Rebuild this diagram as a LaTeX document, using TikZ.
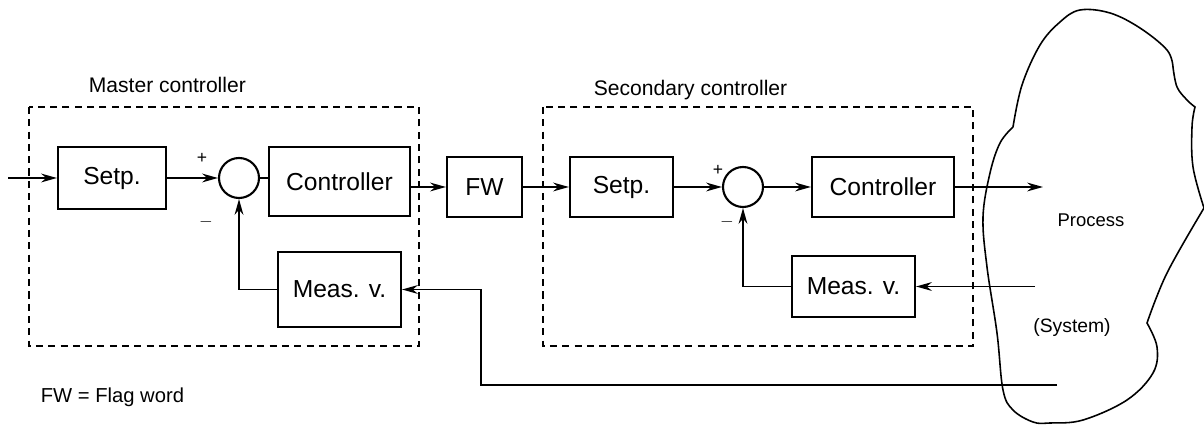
\documentclass[tikz,border=0pt]{standalone}
\usepackage{fontspec}
\setmainfont{Liberation Sans}
\usetikzlibrary{arrows.meta}

\tikzset{
  block/.style={draw, line width=1.2pt, inner sep=0pt, font=\fontsize{14}{16}\selectfont},
  sumpt/.style={draw, circle, line width=1.2pt, minimum size=40*0.02cm, inner sep=0pt},
  frame/.style={line width=1.1pt, dash pattern=on 4pt off 3pt},
  lbl/.style={inner sep=0pt, font=\fontsize{12}{14}\selectfont},
  sgn/.style={inner sep=0pt, font=\fontsize{10}{12}\selectfont},
}

\begin{document}
\begin{tikzpicture}[x=0.02cm, y=-0.02cm, line width=1pt, >={Stealth[length=9pt,width=5pt]}]
\useasboundingbox (0,0) rectangle (1204,425);
% controller frames
\draw[frame] (29,107) rectangle (419,346);
\draw[frame] (543,107) rectangle (973,346);
\node[lbl, anchor=west] (mlabel) at (88,85) {Master controller};
\node[lbl, anchor=west] (slabel) at (593,90) {Secondary controller};
% master loop
\node[block, minimum width=108*0.02cm, minimum height=62*0.02cm] (msetp) at (112,178) {Setp.};
\node[sumpt] (msum) at (239,178) {};
\node[block, minimum width=141*0.02cm, minimum height=69*0.02cm] (mctrl) at (339.5,181.5) {Controller};
\node[block, minimum width=123*0.02cm, minimum height=75*0.02cm] (mmeas) at (339.5,289.5) {Meas. v.};
\node[sgn] (mplus) at (202,158) {+};
\node[sgn] (mminus) at (206,222) {$-$};
% flag word
\node[block, minimum width=75*0.02cm, minimum height=60*0.02cm] (fw) at (484.5,187) {FW};
% secondary loop
\node[block, minimum width=103*0.02cm, minimum height=60*0.02cm] (ssetp) at (621.5,187) {Setp.};
\node[sumpt] (ssum) at (743,187) {};
\node[block, minimum width=142*0.02cm, minimum height=60*0.02cm] (sctrl) at (883,187) {Controller};
\node[block, minimum width=123*0.02cm, minimum height=61*0.02cm] (smeas) at (853.5,286.5) {Meas. v.};
\node[sgn] (splus) at (718,170) {+};
\node[sgn] (sminus) at (727,222) {$-$};
% the process
\draw[line width=0.9pt]
  plot[smooth, tension=0.6] coordinates {(1013,127) (1022,85) (1040,45) (1060,22) (1080,10) (1110,13) (1140,28) (1167,50) (1173,67)}
  -- plot[smooth, tension=0.6] coordinates {(1173,67) (1177,87) (1187,100) (1195,107)}
  -- plot[smooth, tension=0.6] coordinates {(1195,107) (1192,127) (1193,167) (1204,208)}
  -- plot[smooth, tension=0.6] coordinates {(1204,208) (1167,273) (1147,323)}
  -- plot[smooth, tension=0.6] coordinates {(1147,323) (1157,347) (1153,373) (1127,400) (1083,420) (1050,423) (1033,422) (1013,410) (1003,390) (997,333) (987,267) (983,217) (990,173) (1000,143) (1013,127)};
\node[inner sep=0pt, font=\fontsize{10.5}{12}\selectfont] (proc) at (1091,220) {Process};
\node[inner sep=0pt, font=\fontsize{11}{13}\selectfont] (sys) at (1072,328) {(System)};
\node[inner sep=0pt, anchor=west, font=\fontsize{11.5}{13}\selectfont] (note) at (40,397) {FW = Flag word};
% free ends
\coordinate (in) at (8,178);
\coordinate (out) at (1043,187);
\coordinate (pin) at (1035,286.5);
\coordinate (pback) at (1057,385);
\coordinate (fbk) at (481,385);
% signal flow
\draw[->] (in) -- (msetp.west);
\draw[->] (msetp.east) -- (msum.west);
\draw (msum.east) -- (msum.east -| mctrl.west);
\draw[->] (mctrl.east |- fw.west) -- (fw.west);
\draw[->] (fw.east) -- (ssetp.west);
\draw[->] (ssetp.east) -- (ssum.west);
\draw[->] (ssum.east) -- (sctrl.west);
\draw[->] (sctrl.east) -- (out);
% feedback paths
\draw[->] (pin) -- (smeas.east);
\draw[->] (smeas.west) -| (ssum.south);
\draw[->] (mmeas.west) -| (msum.south);
\draw[->] (pback) -- (fbk) |- (mmeas.east);
\end{tikzpicture}
\end{document}
